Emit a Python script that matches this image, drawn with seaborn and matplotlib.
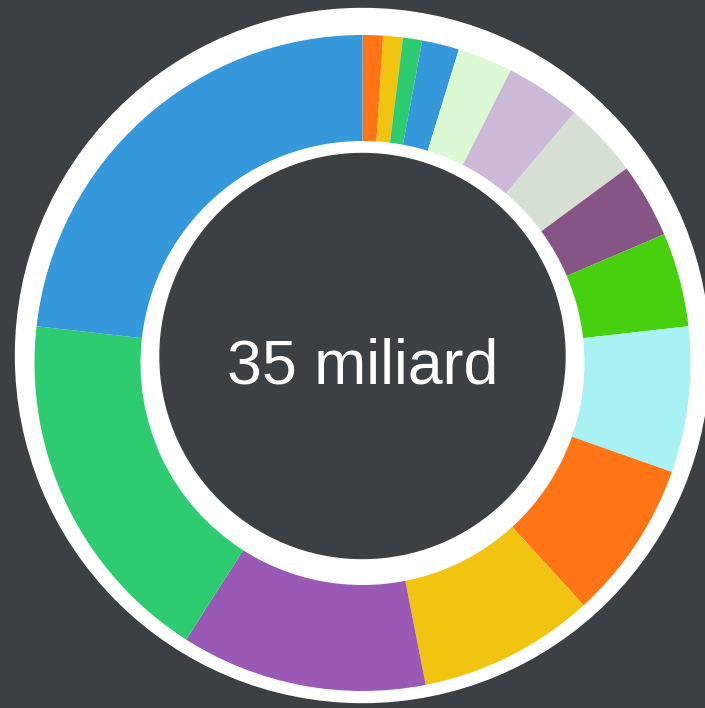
import matplotlib
matplotlib.use("Agg")
import matplotlib.pyplot as plt
import seaborn as sns
from matplotlib.patches import Circle

segments = ["s01", "s02", "s03", "s04", "s05", "s06", "s07", "s08",
            "s09", "s10", "s11", "s12", "s13", "s14", "s15"]
values = [0.35, 0.34, 0.33, 0.64, 0.95, 1.30, 1.30, 1.29,
          1.62, 2.51, 2.74, 3.04, 4.24, 6.21, 8.12]
colours = ["#ff7516", "#f1c40f", "#2ecc71", "#3498db", "#dbfad3",
           "#ccb9d7", "#d6e0d3", "#875585", "#46d00e", "#a8f2f4",
           "#ff7516", "#f1c40f", "#9b59b6", "#2ecc71", "#3498db"]
centre_label = "35 miliard"

sns.set_theme(style="dark")
plt.rcParams['font.family'] = ['Liberation Sans', 'DejaVu Sans']
bg = "#3a4043"

fig = plt.figure(figsize=(7.05, 7.08), dpi=100, facecolor=bg)
ax = fig.add_axes([0, 0, 1, 1])
ax.set_facecolor(bg)

H = 708
cx = 362.5

# white backing disc
ax.add_patch(Circle((cx, H - 355.5), 347, color="white", zorder=1))

# the coloured ring
ax.pie(values, colors=sns.color_palette(colours), startangle=90,
       counterclock=False, radius=328, center=(cx, H - 363),
       wedgeprops=dict(width=328 - 222, linewidth=0, zorder=2))

# dark centre
ax.add_patch(Circle((cx, H - 356), 202.5, color=bg, zorder=3))
ax.text(cx, H - 383, centre_label, color="white", fontsize=45,
        ha="center", va="baseline", zorder=4)

ax.set_xlim(0, 705)
ax.set_ylim(0, H)
ax.set_aspect("auto")
ax.axis("off")

fig.savefig("out.png", dpi=100, facecolor=bg)
